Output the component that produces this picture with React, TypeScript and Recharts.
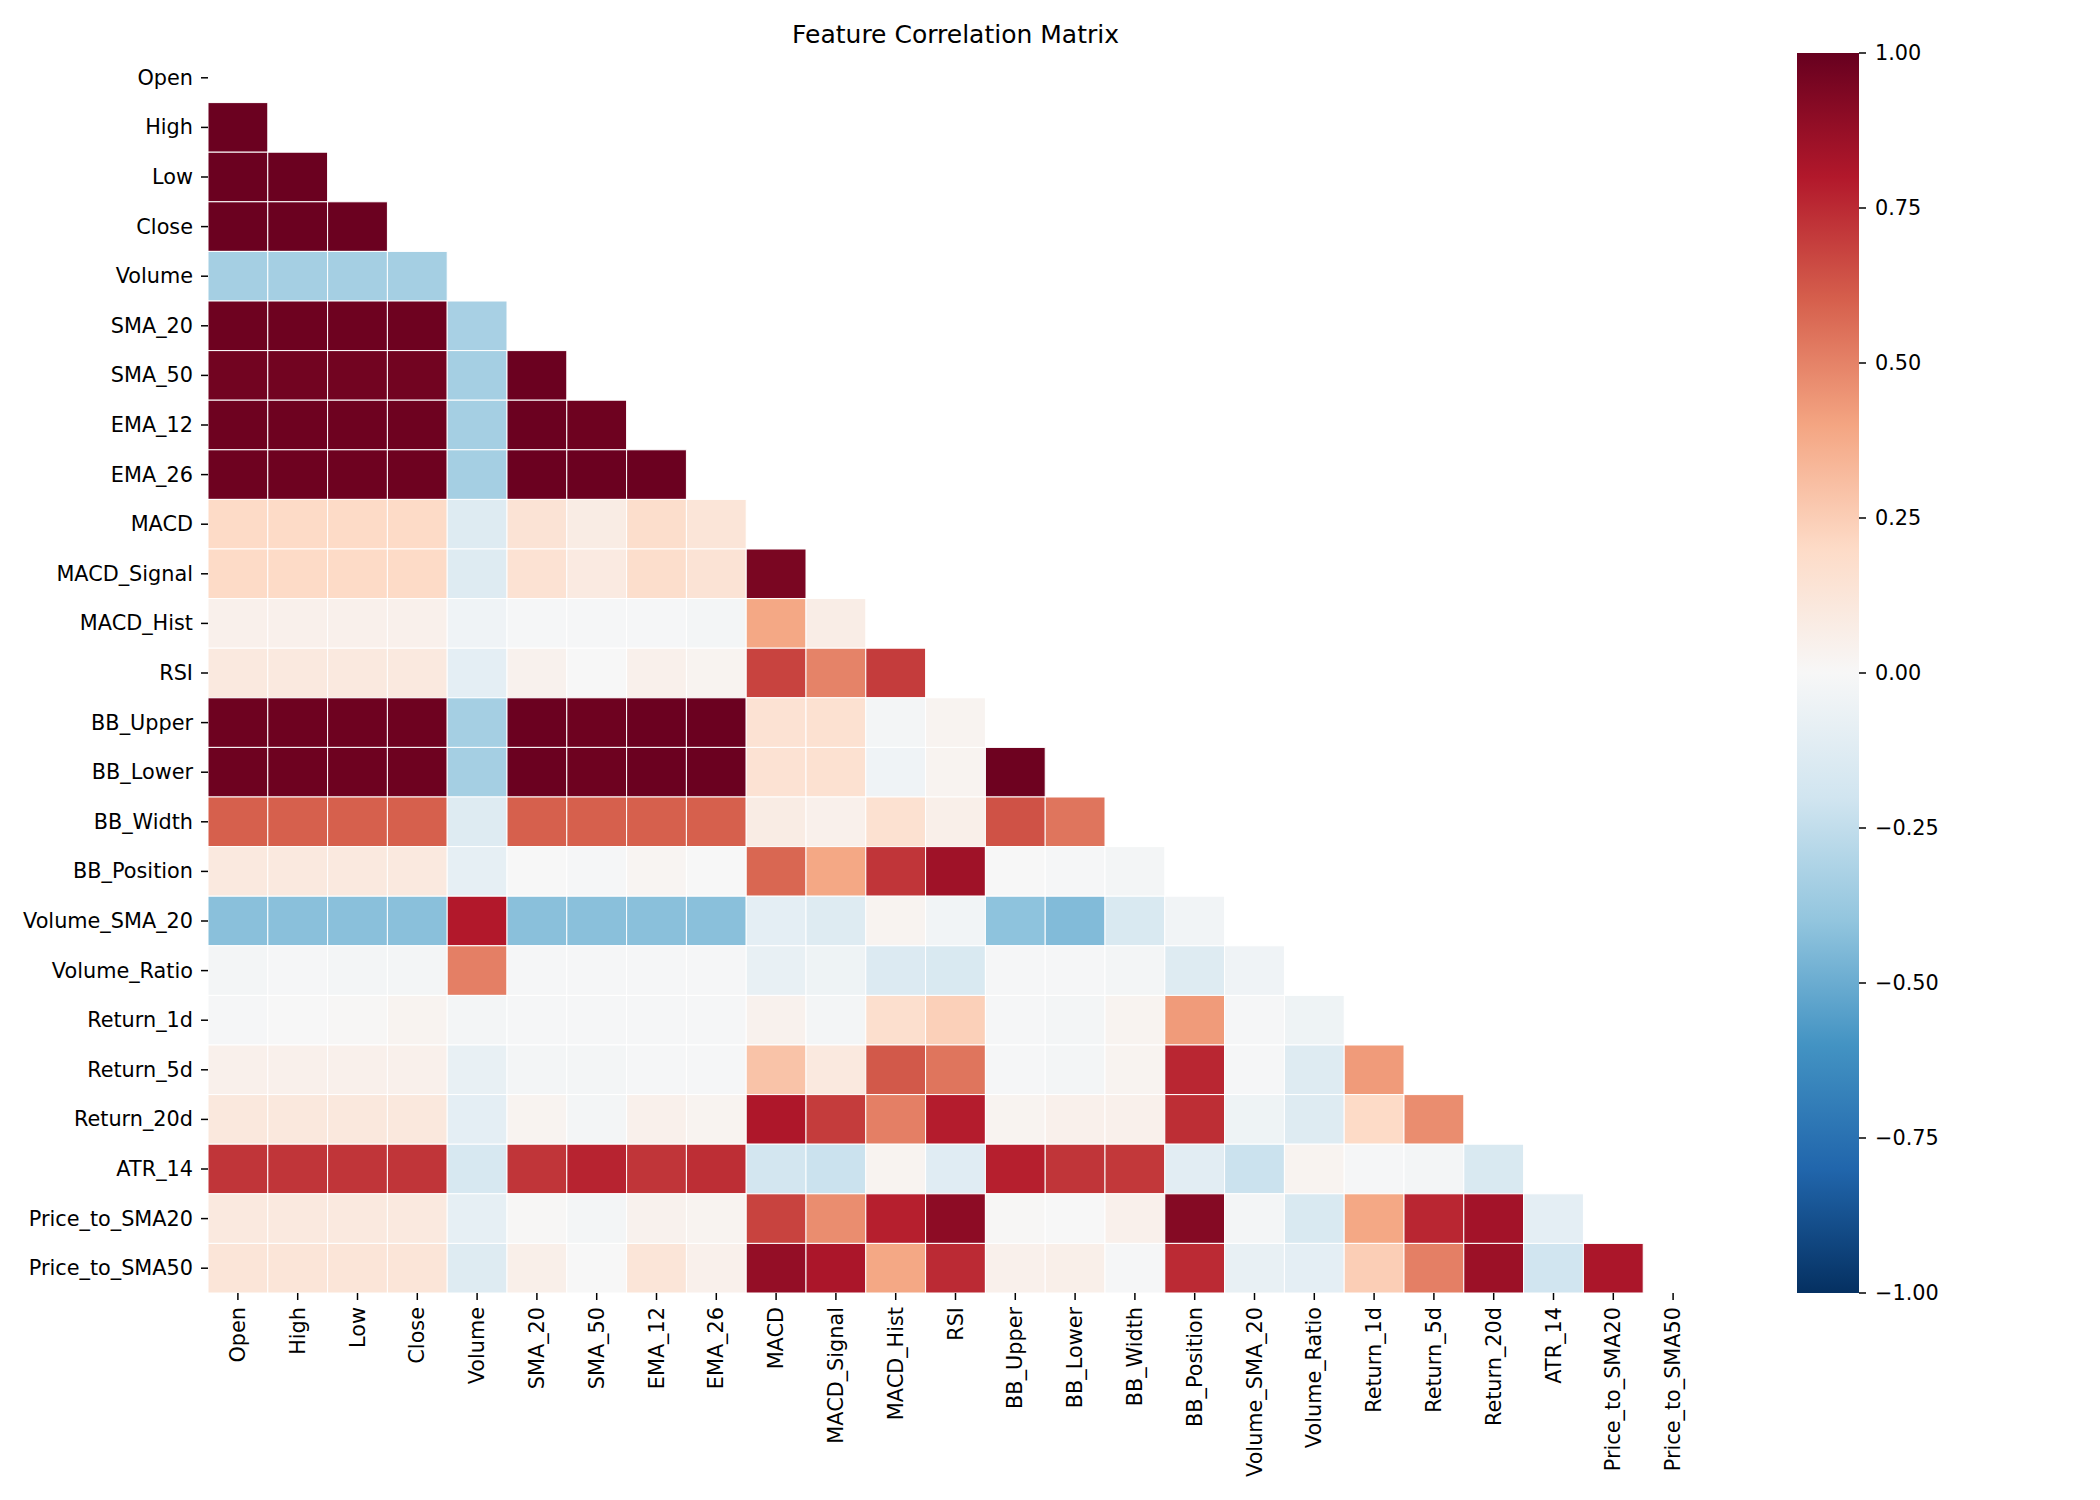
import { Bar, BarChart, ScatterChart, Scatter, XAxis, YAxis } from "recharts";

const features = [
  "Open", "High", "Low", "Close", "Volume", "SMA_20", "SMA_50", "EMA_12", "EMA_26",
  "MACD", "MACD_Signal", "MACD_Hist", "RSI", "BB_Upper", "BB_Lower", "BB_Width",
  "BB_Position", "Volume_SMA_20", "Volume_Ratio", "Return_1d", "Return_5d",
  "Return_20d", "ATR_14", "Price_to_SMA20", "Price_to_SMA50",
];

// lower triangle only (diagonal and above are masked), row i has i values
const corrRows: number[][] = [
  [],
  [0.99],
  [0.99, 0.99],
  [0.99, 0.99, 0.99],
  [-0.34, -0.34, -0.34, -0.34],
  [0.98, 0.98, 0.98, 0.98, -0.33],
  [0.97, 0.97, 0.97, 0.97, -0.34, 0.99],
  [0.98, 0.98, 0.98, 0.98, -0.34, 0.99, 0.98],
  [0.98, 0.98, 0.98, 0.98, -0.34, 0.99, 0.99, 0.99],
  [0.2, 0.2, 0.2, 0.2, -0.13, 0.14, 0.08, 0.18, 0.13],
  [0.2, 0.2, 0.2, 0.2, -0.13, 0.15, 0.09, 0.18, 0.14, 0.95],
  [0.05, 0.05, 0.05, 0.05, -0.04, -0.01, -0.01, -0.01, -0.02, 0.39, 0.07],
  [0.1, 0.1, 0.1, 0.1, -0.1, 0.04, 0.0, 0.05, 0.03, 0.68, 0.5, 0.7],
  [0.98, 0.98, 0.98, 0.98, -0.34, 0.99, 0.98, 0.99, 0.99, 0.15, 0.16, -0.02, 0.03],
  [0.98, 0.98, 0.98, 0.98, -0.34, 0.99, 0.98, 0.99, 0.99, 0.15, 0.16, -0.04, 0.03, 0.98],
  [0.6, 0.6, 0.6, 0.6, -0.13, 0.6, 0.6, 0.6, 0.6, 0.08, 0.05, 0.16, 0.06, 0.64, 0.54],
  [0.1, 0.1, 0.1, 0.1, -0.09, 0.0, -0.01, 0.02, 0.0, 0.58, 0.39, 0.72, 0.85, 0.0, -0.01, -0.02],
  [-0.42, -0.42, -0.42, -0.42, 0.8, -0.42, -0.42, -0.42, -0.42, -0.1, -0.13, 0.03, -0.03, -0.41, -0.44, -0.16, -0.03],
  [-0.02, -0.01, -0.02, -0.02, 0.51, -0.01, -0.01, -0.01, -0.01, -0.08, -0.05, -0.14, -0.16, -0.01, -0.01, -0.02, -0.13, -0.04],
  [-0.01, 0.0, 0.01, 0.03, -0.02, -0.01, -0.01, -0.01, -0.01, 0.04, -0.02, 0.17, 0.24, -0.01, -0.02, 0.03, 0.43, -0.01, -0.05],
  [0.05, 0.05, 0.05, 0.05, -0.08, -0.02, -0.02, -0.01, -0.01, 0.29, 0.1, 0.62, 0.54, -0.01, -0.02, 0.03, 0.76, -0.01, -0.13, 0.43],
  [0.11, 0.11, 0.11, 0.11, -0.1, 0.03, -0.02, 0.05, 0.03, 0.81, 0.7, 0.51, 0.79, 0.03, 0.05, 0.05, 0.74, -0.05, -0.13, 0.2, 0.47],
  [0.72, 0.72, 0.72, 0.72, -0.17, 0.72, 0.77, 0.72, 0.74, -0.19, -0.22, 0.03, -0.12, 0.78, 0.72, 0.71, -0.11, -0.22, 0.03, -0.01, -0.02, -0.16],
  [0.1, 0.1, 0.1, 0.1, -0.09, 0.01, -0.02, 0.04, 0.03, 0.68, 0.47, 0.78, 0.9, 0.01, 0.0, 0.05, 0.92, -0.02, -0.16, 0.39, 0.76, 0.84, -0.1],
  [0.13, 0.13, 0.13, 0.13, -0.13, 0.06, 0.0, 0.13, 0.05, 0.88, 0.82, 0.39, 0.75, 0.05, 0.06, -0.01, 0.75, -0.08, -0.1, 0.25, 0.51, 0.86, -0.2, 0.82],
];

const colorbarTicks = [-1, -0.75, -0.5, -0.25, 0, 0.25, 0.5, 0.75, 1];

// RdBu_r anchor colours, from -1 to +1
const RDBU_R = [
  "#053061", "#2166ac", "#4393c3", "#92c5de", "#d1e5f0", "#f7f7f7",
  "#fddbc7", "#f4a582", "#d6604d", "#b2182b", "#67001f",
];

const FONT = "'DejaVu Sans', sans-serif";
const N = features.length;
const PLOT_LEFT = 208;
const PLOT_RIGHT = 1703;
const PLOT_TOP = 53;
const PLOT_BOTTOM = 1293;
const CELL_W = (PLOT_RIGHT - PLOT_LEFT) / N;
const CELL_H = (PLOT_BOTTOM - PLOT_TOP) / N;

function hexToRgb(h: string) {
  return [1, 3, 5].map((i) => parseInt(h.slice(i, i + 2), 16));
}

function colorFor(v: number) {
  const t = Math.max(0, Math.min(1, (v + 1) / 2)) * 10;
  const i = Math.min(9, Math.floor(t));
  const f = t - i;
  const a = hexToRgb(RDBU_R[i]);
  const b = hexToRgb(RDBU_R[i + 1]);
  const c = a.map((x, k) => Math.round(x + (b[k] - x) * f));
  return `rgb(${c[0]},${c[1]},${c[2]})`;
}

const cells = corrRows.flatMap((row, i) =>
  row.map((v, j) => ({ x: j + 0.5, y: i + 0.5, v }))
);

const cellTicks = features.map((_, i) => i + 0.5);

function CellShape(props: any) {
  const { cx, cy, payload } = props;
  return (
    <rect
      x={cx - CELL_W / 2}
      y={cy - CELL_H / 2}
      width={CELL_W}
      height={CELL_H}
      fill={colorFor(payload.v)}
      stroke="#ffffff"
      strokeWidth={1}
    />
  );
}

function XTick({ x, y, payload }: any) {
  return (
    <text
      x={x}
      y={y}
      transform={`rotate(-90, ${x}, ${y})`}
      textAnchor="end"
      dominantBaseline="central"
      fontSize={20.8}
      fontFamily={FONT}
      fill="#000"
    >
      {features[Math.floor(payload.value)]}
    </text>
  );
}

function YTick({ x, y, payload }: any) {
  return (
    <text
      x={x - 1}
      y={y}
      textAnchor="end"
      dominantBaseline="central"
      fontSize={20.8}
      fontFamily={FONT}
      fill="#000"
    >
      {features[Math.floor(payload.value)]}
    </text>
  );
}

function CbarTick({ x, y, payload }: any) {
  const label = payload.value < 0 ? "\u2212" + Math.abs(payload.value).toFixed(2) : payload.value.toFixed(2);
  return (
    <text x={x} y={y} textAnchor="start" dominantBaseline="central" fontSize={20.8} fontFamily={FONT} fill="#000">
      {label}
    </text>
  );
}

export default function App() {
  const cbarData = [{ name: "cbar", range: [-1, 1] }];
  return (
    <div style={{ position: "absolute", left: 0, top: 0, width: 2100, height: 1500, background: "#fff" }}>
      <div
        style={{
          position: "absolute",
          left: PLOT_LEFT,
          width: PLOT_RIGHT - PLOT_LEFT,
          top: 20,
          textAlign: "center",
          fontFamily: FONT,
          fontSize: 25,
          color: "#000",
        }}
      >
        Feature Correlation Matrix
      </div>

      <div style={{ position: "absolute", left: 0, top: 0 }}>
        <ScatterChart
          width={2100}
          height={1500}
          margin={{ top: PLOT_TOP, right: 2100 - PLOT_RIGHT, bottom: 1500 - PLOT_BOTTOM - 200, left: PLOT_LEFT - 200 }}
        >
          <XAxis
            type="number"
            dataKey="x"
            domain={[0, N]}
            ticks={cellTicks}
            interval={0}
            axisLine={false}
            tickLine={{ stroke: "#000", strokeWidth: 1.5 }}
            tickSize={7}
            tickMargin={7}
            height={200}
            tick={<XTick />}
            allowDataOverflow
          />
          <YAxis
            type="number"
            dataKey="y"
            domain={[0, N]}
            reversed
            ticks={cellTicks}
            interval={0}
            axisLine={false}
            tickLine={{ stroke: "#000", strokeWidth: 1.5 }}
            tickSize={7}
            tickMargin={7}
            width={200}
            tick={<YTick />}
            allowDataOverflow
          />
          <Scatter data={cells} shape={<CellShape />} isAnimationActive={false} />
        </ScatterChart>
      </div>

      <div style={{ position: "absolute", left: 1797, top: 0 }}>
        <BarChart
          width={262}
          height={1500}
          data={cbarData}
          barCategoryGap={0}
          margin={{ top: PLOT_TOP, right: 0, bottom: 1500 - PLOT_BOTTOM, left: 0 }}
        >
          <defs>
            <linearGradient id="cbarGrad" x1="0" y1="1" x2="0" y2="0">
              {RDBU_R.map((c, i) => (
                <stop key={i} offset={`${i * 10}%`} stopColor={c} />
              ))}
            </linearGradient>
          </defs>
          <XAxis dataKey="name" hide />
          <YAxis
            orientation="right"
            type="number"
            domain={[-1, 1]}
            ticks={colorbarTicks}
            interval={0}
            axisLine={false}
            tickLine={{ stroke: "#000", strokeWidth: 1.5 }}
            tickSize={7}
            tickMargin={9}
            width={200}
            tick={<CbarTick />}
          />
          <Bar dataKey="range" fill="url(#cbarGrad)" isAnimationActive={false} />
        </BarChart>
      </div>
    </div>
  );
}
